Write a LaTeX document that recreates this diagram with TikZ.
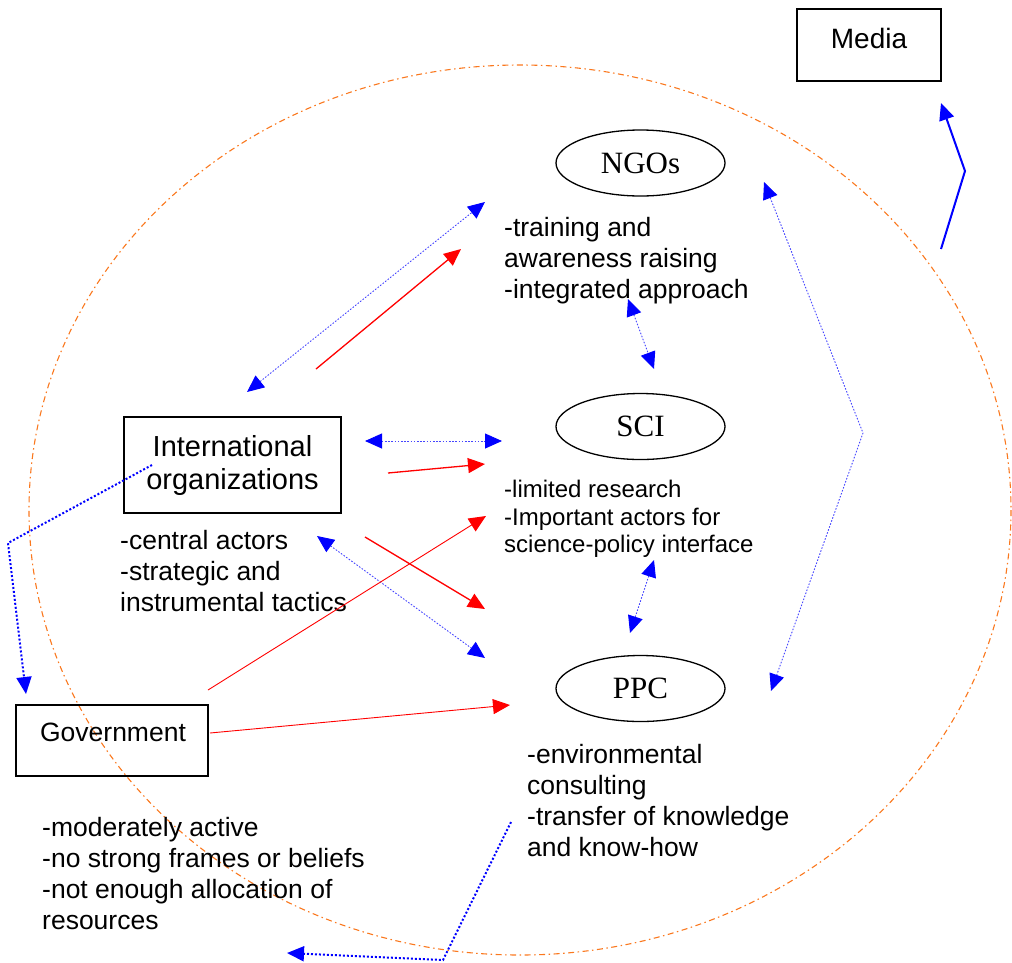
\documentclass[tikz,border=0pt]{standalone}
\usepackage{fontspec}
\setmainfont{Liberation Sans}
\newfontfamily\serifface{Liberation Serif}
\usetikzlibrary{arrows.meta,shapes.geometric}
\definecolor{dorange}{RGB}{250,120,30}
\definecolor{lblue}{RGB}{70,70,255}
\tikzset{
  actor/.style={draw,ellipse,line width=1.3pt,minimum width=169pt,minimum height=66pt,inner sep=0,font=\serifface\fontsize{31}{34}\selectfont},
  txt/.style={align=left,inner sep=0,anchor=north west,font=\fontsize{26.5}{31}\selectfont},
  stxt/.style={align=left,inner sep=0,anchor=north west,font=\fontsize{24}{27.5}\selectfont},
  tip/.style={-{Triangle[length=17pt,width=15pt]}},
  dtip/.style={{Triangle[length=17pt,width=15pt,color=blue]}-{Triangle[length=17pt,width=15pt,color=blue]}},
  thindot/.style={lblue,line width=0.9pt,dash pattern=on 1.6pt off 1.6pt},
  bolddot/.style={blue,line width=2pt,dash pattern=on 2pt off 2pt},
  redarr/.style={red,line width=1.3pt,tip},
  redthin/.style={red,line width=0.9pt,tip},
}
\begin{document}
\begin{tikzpicture}[x=1pt,y=-1pt]
\useasboundingbox (0,0) rectangle (1012,962);
% outer dash-dot ellipse
\draw[dorange,line width=1.1pt,dash pattern=on 6pt off 3.5pt on 1.5pt off 3.5pt] (520,510) ellipse [x radius=491,y radius=445];
% boxes
\node[draw,line width=1.3pt,minimum width=144pt,minimum height=72pt,inner sep=0] (media) at (869,45) {};
\node[font=\fontsize{28}{32}\selectfont,inner sep=0] (medialbl) at (869,38) {Media};
\node[draw,line width=1.3pt,minimum width=217pt,minimum height=96pt,inner sep=0,align=center,font=\fontsize{29}{33}\selectfont] (intl) at (232.5,465) {International\\organizations};
\node[draw,line width=1.3pt,minimum width=192pt,minimum height=71pt,inner sep=0] (gov) at (112,740.5) {};
\node[font=\fontsize{26.5}{30}\selectfont,inner sep=0] (govlbl) at (113,732) {Government};
% actors
\node[actor] (ngo) at (640.5,163) {NGOs};
\node[actor] (sci) at (640.5,426.5) {SCI};
\node[actor] (ppc) at (640.5,688.5) {PPC};
% texts
\node[txt] (ngotxt) at (504,217) {-training and\\awareness raising\\-integrated approach};
\node[stxt] (scitxt) at (504,480) {-limited research\\-Important actors for\\science-policy interface};
\node[txt] (intltxt) at (120,530) {-central actors\\-strategic and\\instrumental tactics};
\node[txt] (govtxt) at (42,817) {-moderately active\\-no strong frames or beliefs\\-not enough allocation of\\resources};
\node[txt] (ppctxt) at (527,744) {-environmental\\consulting\\-transfer of knowledge\\and know-how};
% coordinates
\coordinate (a1) at (247,392); \coordinate (a2) at (485,202);
\coordinate (b1) at (316,369); \coordinate (b2) at (461,249);
\coordinate (c1) at (365,441); \coordinate (c2) at (502,441);
\coordinate (d1) at (388,473); \coordinate (d2) at (485,464);
\coordinate (e1) at (365,537); \coordinate (e2) at (485,609);
\coordinate (f1) at (317,536); \coordinate (f2) at (485,658);
\coordinate (g1) at (208,690); \coordinate (g2) at (486,516);
\coordinate (h1) at (210,733); \coordinate (h2) at (510,705);
\coordinate (i1) at (152,465); \coordinate (i2) at (8,543); \coordinate (i3) at (26,694);
\coordinate (j1) at (628,299); \coordinate (j2) at (654,369);
\coordinate (k1) at (654,560); \coordinate (k2) at (630,633);
\coordinate (l1) at (764,182); \coordinate (l2) at (863,433); \coordinate (l3) at (771,691);
\coordinate (m1) at (941,249); \coordinate (m2) at (965,171); \coordinate (m3) at (941,103);
\coordinate (n1) at (511,822); \coordinate (n2) at (443,960); \coordinate (n3) at (287,953);
% connectors
\draw[thindot,dtip] (a1) -- (a2);
\draw[redarr] (b1) -- (b2);
\draw[thindot,dtip] (c1) -- (c2);
\draw[redarr] (d1) -- (d2);
\draw[redarr] (e1) -- (e2);
\draw[thindot,dtip] (f1) -- (f2);
\draw[redthin] (g1) -- (g2);
\draw[redthin] (h1) -- (h2);
\draw[bolddot,tip] (i1) -- (i2) -- (i3);
\draw[thindot,dtip] (j1) -- (j2);
\draw[thindot,dtip] (k1) -- (k2);
\draw[thindot,dtip] (l1) -- (l2) -- (l3);
\draw[blue,line width=2pt,tip] (m1) -- (m2) -- (m3);
\draw[bolddot,tip] (n1) -- (n2) -- (n3);
\end{tikzpicture}
\end{document}
